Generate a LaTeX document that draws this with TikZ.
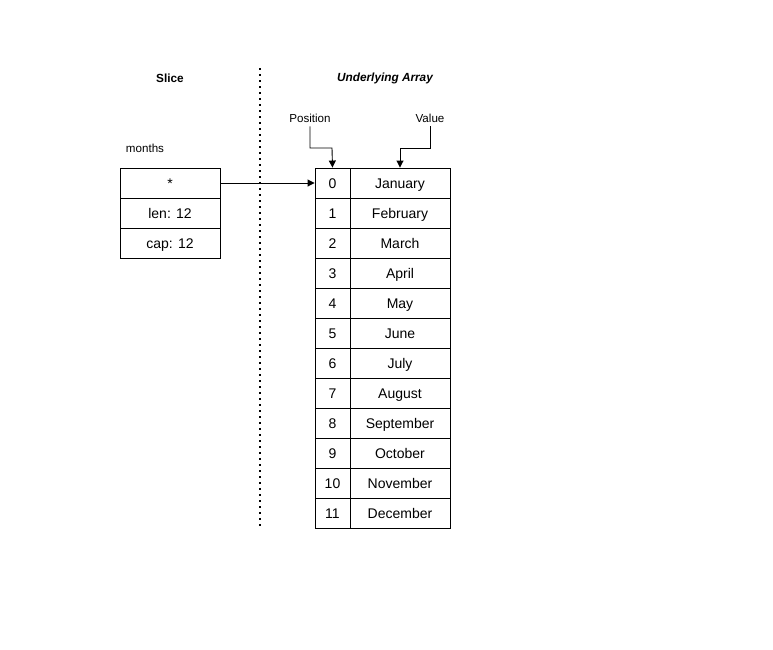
\documentclass[tikz,border=0pt]{standalone}
\usepackage{fontspec}
\setmainfont{Liberation Sans}
\usetikzlibrary{arrows.meta}
\begin{document}
\begin{tikzpicture}[x=1pt,y=-1pt,
  cell/.style={draw,line width=0.9pt,minimum height=30pt,inner sep=0pt,text height=10pt,text depth=0pt,font=\fontsize{14}{16}\selectfont},
  lbl/.style={inner sep=0pt,font=\fontsize{11.6}{13}\selectfont},
  conn/.style={line width=0.9pt,-{Triangle[length=7pt,width=7pt]}}]
\useasboundingbox (0,0) rectangle (773,649);
% titles
\node[lbl,font=\fontsize{11.8}{13}\selectfont\bfseries] (slicet) at (170,78) {Slice};
\node[lbl,font=\fontsize{11.8}{13}\selectfont\bfseries\itshape] (arrt) at (385,78) {Underlying Array};
\coordinate (dtop) at (260,68);
\coordinate (dbot) at (260,527);
\draw[line width=1.6pt,dash pattern=on 1.6pt off 4.4pt] (dtop) -- (dbot);
% slice
\node[lbl] (months) at (145,148) {months};
\node[cell,minimum width=100pt] (ptr) at (170,183) {*};
\node[cell,minimum width=100pt] (len) at (170,213) {len: 12};
\node[cell,minimum width=100pt] (cap) at (170,243) {cap: 12};
% array
\foreach \i/\m in {0/January,1/February,2/March,3/April,4/May,5/June,6/July,7/August,8/September,9/October,10/November,11/December}{
  \node[cell,minimum width=35pt] (p\i) at (332.5,183+30*\i) {\i};
  \node[cell,minimum width=100pt] (v\i) at (400,183+30*\i) {\m};
}
\node[lbl] (pos) at (310,118) {Position};
\node[lbl] (val) at (430,118) {Value};
\draw[conn] (pos.south) ++(0,4) |- (332,148) -- (p0.north);
\draw[conn] (val.south) ++(0,4) |- (400,148) -- (v0.north);
\draw[conn] (ptr.east) -- (p0.west);
\end{tikzpicture}
\end{document}
